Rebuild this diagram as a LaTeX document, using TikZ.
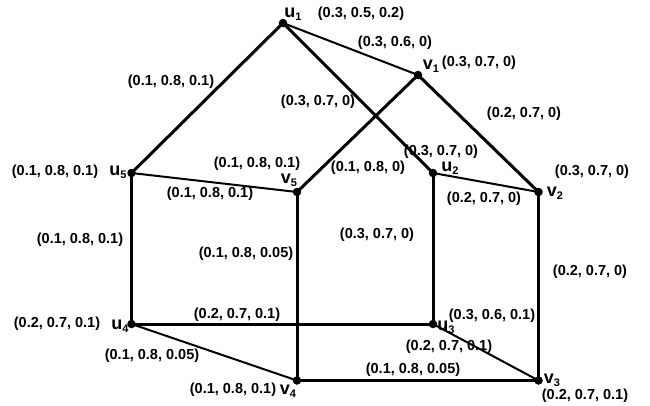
\documentclass[tikz,border=0pt]{standalone}
\usepackage{fontspec}
\setmainfont{Liberation Sans}
\begin{document}
\begin{tikzpicture}[x=1pt,y=-1pt,
  dot/.style={circle,fill=black,inner sep=0pt,minimum size=8.5pt},
  thk/.style={line width=3pt},
  thn/.style={line width=2pt},
  lab/.style={font=\fontsize{14.5}{15}\selectfont\bfseries,inner sep=0pt},
  vl/.style={font=\fontsize{18}{19}\selectfont\bfseries,inner sep=0pt}]
\useasboundingbox (0,0) rectangle (650,405);
\newcommand{\vlab}[2]{#1\raisebox{-0.3ex}{\fontsize{11}{12}\selectfont #2}}
% vertices
\node[dot] (u1) at (283,23) {};
\node[dot] (v1) at (418,75) {};
\node[dot] (u2) at (433,173) {};
\node[dot] (v2) at (538.5,192) {};
\node[dot] (u5) at (131.5,173) {};
\node[dot] (v5) at (297,192) {};
\node[dot] (u4) at (131.5,324) {};
\node[dot] (u3) at (433,324) {};
\node[dot] (v4) at (297,380.5) {};
\node[dot] (v3) at (538.5,380.5) {};
% edges
\draw[thn] (u1.center) -- (v1.center);
\draw[thk] (u1.center) -- (u5.center);
\draw[thk] (u1.center) -- (u2.center);
\draw[thk] (v1.center) -- (v5.center);
\draw[thk] (v1.center) -- (v2.center);
\draw[thn] (u5.center) -- (v5.center);
\draw[thn] (u2.center) -- (v2.center);
\draw[thk] (u5.center) -- (u4.center);
\draw[thk] (v5.center) -- (v4.center);
\draw[thk] (u2.center) -- (u3.center);
\draw[thk] (v2.center) -- (v3.center);
\draw[thk] (u4.center) -- (u3.center);
\draw[thn] (u4.center) -- (v4.center);
\draw[thn] (u3.center) -- (v3.center);
\draw[thk] (v4.center) -- (v3.center);
% vertex names
\node[vl] (nu1) at (293,14) {\vlab{u}{1}};
\node[vl] (nv1) at (431,66) {\vlab{v}{1}};
\node[vl] (nu2) at (450,168) {\vlab{u}{2}};
\node[vl] (nv2) at (555,193) {\vlab{v}{2}};
\node[vl] (nu5) at (118,172) {\vlab{u}{5}};
\node[vl] (nv5) at (289,180) {\vlab{v}{5}};
\node[vl] (nu4) at (120,326) {\vlab{u}{4}};
\node[vl] (nu3) at (446,327) {\vlab{u}{3}};
\node[vl] (nv4) at (288,391) {\vlab{v}{4}};
\node[vl] (nv3) at (552,380) {\vlab{v}{3}};
% labels
\node[lab] (l1) at (361,14) {(0.3, 0.5, 0.2)};
\node[lab] (l2) at (395,43) {(0.3, 0.6, 0)};
\node[lab] (l3) at (479,63) {(0.3, 0.7, 0)};
\node[lab] (l4) at (171,82) {(0.1, 0.8, 0.1)};
\node[lab] (l5) at (318,102) {(0.3, 0.7, 0)};
\node[lab] (l6) at (524,114) {(0.2, 0.7, 0)};
\node[lab] (l7) at (441,152) {(0.3, 0.7, 0)};
\node[lab] (l8) at (368,168) {(0.1, 0.8, 0)};
\node[lab] (l9) at (257,164) {(0.1, 0.8, 0.1)};
\node[lab] (l10) at (55,172) {(0.1, 0.8, 0.1)};
\node[lab] (l11) at (210,194) {(0.1, 0.8, 0.1)};
\node[lab] (l12) at (484,199) {(0.2, 0.7, 0)};
\node[lab] (l13) at (592,172) {(0.3, 0.7, 0)};
\node[lab] (l14) at (80,240) {(0.1, 0.8, 0.1)};
\node[lab] (l15) at (246,254) {(0.1, 0.8, 0.05)};
\node[lab] (l16) at (377,235) {(0.3, 0.7, 0)};
\node[lab] (l17) at (590,272) {(0.2, 0.7, 0)};
\node[lab] (l18) at (57,324) {(0.2, 0.7, 0.1)};
\node[lab] (l19) at (237,315) {(0.2, 0.7, 0.1)};
\node[lab] (l20) at (492,316) {(0.3, 0.6, 0.1)};
\node[lab] (l21) at (152,356) {(0.1, 0.8, 0.05)};
\node[lab] (l22) at (449,347) {(0.2, 0.7, 0.1)};
\node[lab] (l23) at (413,370) {(0.1, 0.8, 0.05)};
\node[lab] (l24) at (233,390) {(0.1, 0.8, 0.1)};
\node[lab] (l25) at (585,396) {(0.2, 0.7, 0.1)};
\end{tikzpicture}
\end{document}
